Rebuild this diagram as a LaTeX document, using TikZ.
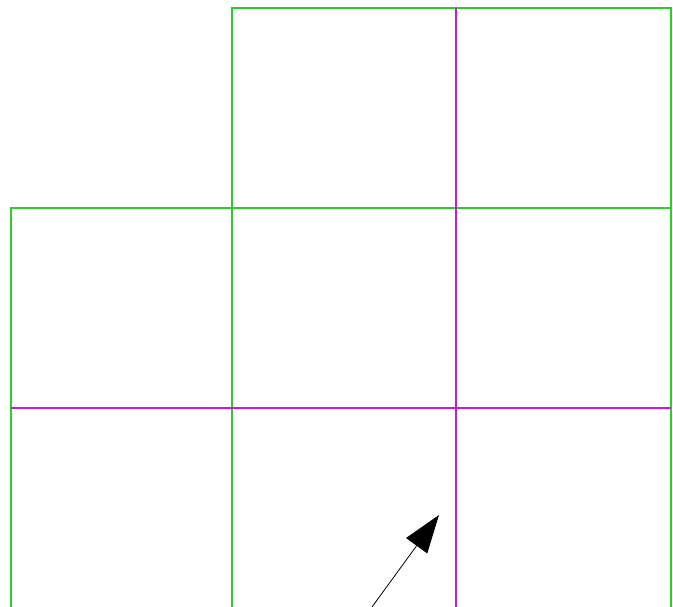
\documentclass[tikz,border=0pt]{standalone}
\usetikzlibrary{arrows.meta}
\definecolor{gridgreen}{RGB}{45,205,45}
\definecolor{gridmag}{RGB}{200,25,220}

\begin{document}
\begin{tikzpicture}[x=1pt,y=-1pt,
  grn/.style={gridgreen,line width=2pt},
  mag/.style={gridmag,line width=2pt},
  arr/.style={-{Triangle[length=38pt,width=26pt]},line width=0.8pt,black}]
  \useasboundingbox (0,0) rectangle (673,607);
  % green cells
  \draw[grn] (232,607) -- (232,8) -- (671,8) -- (671,607);
  \draw[grn] (11,607) -- (11,208) -- (671,208);
  % magenta lines
  \draw[mag] (456,8) -- (456,607);
  \draw[mag] (11,408) -- (671,408);
  % arrow
  \coordinate (tail) at (372,607);
  \coordinate (tip) at (439,515);
  \draw[arr] (tail) -- (tip);
\end{tikzpicture}
\end{document}
